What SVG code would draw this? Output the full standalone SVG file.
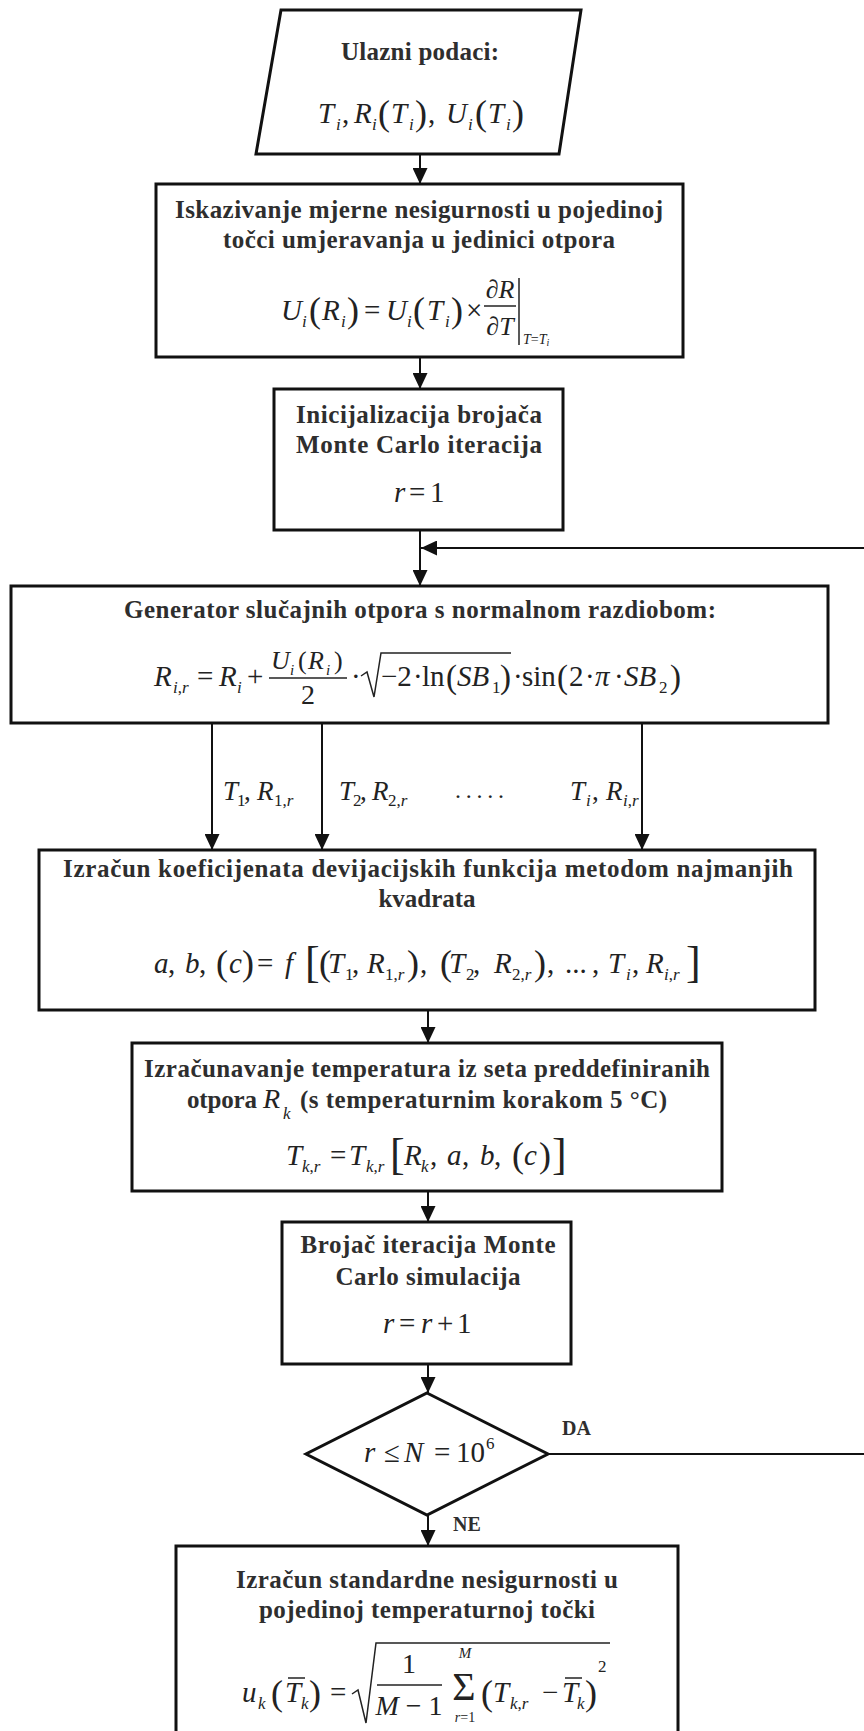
<svg xmlns="http://www.w3.org/2000/svg" width="864" height="1731" viewBox="0 0 864 1731">
<style>
.bx{fill:#fff;stroke:#111;stroke-width:3}
.ln{fill:none;stroke:#111;stroke-width:2}
.th{fill:none;stroke:#222;stroke-width:1.5}
.t{font-family:"Liberation Serif","Times New Roman",serif;font-weight:bold;font-size:25px;fill:#2e2e2e;text-anchor:middle}
.ts{text-anchor:start}
.m{font-family:"Liberation Serif","Times New Roman",serif;font-style:italic;font-size:29px;fill:#222}
.c{text-anchor:middle}
.n{font-style:normal}
.s{font-size:17px}
.p{font-style:normal;font-size:36px}
.b{font-style:normal;font-size:44px}
.lab{font-family:"Liberation Serif","Times New Roman",serif;font-weight:bold;font-size:20px;fill:#2e2e2e}
</style>
<defs>
<marker id="ah" markerUnits="userSpaceOnUse" markerWidth="16" markerHeight="15" refX="16" refY="7.5" orient="auto">
<path d="M0,0 L16,7.5 L0,15 z" fill="#111"/>
</marker>
</defs>
<rect width="864" height="1731" fill="#fff"/>

<g id="connectors">
<line class="ln" x1="420" y1="155" x2="420" y2="184" marker-end="url(#ah)"/>
<line class="ln" x1="420" y1="358" x2="420" y2="389" marker-end="url(#ah)"/>
<line class="ln" x1="420" y1="531" x2="420" y2="586" marker-end="url(#ah)"/>
<line class="ln" x1="864" y1="548" x2="421" y2="548" marker-end="url(#ah)"/>
<line class="ln" x1="212" y1="724" x2="212" y2="850" marker-end="url(#ah)"/>
<line class="ln" x1="322" y1="724" x2="322" y2="850" marker-end="url(#ah)"/>
<line class="ln" x1="642" y1="724" x2="642" y2="850" marker-end="url(#ah)"/>
<line class="ln" x1="428" y1="1011" x2="428" y2="1043" marker-end="url(#ah)"/>
<line class="ln" x1="428" y1="1192" x2="428" y2="1222" marker-end="url(#ah)"/>
<line class="ln" x1="428" y1="1365" x2="428" y2="1393" marker-end="url(#ah)"/>
<line class="ln" x1="428" y1="1515" x2="428" y2="1546" marker-end="url(#ah)"/>
<line class="ln" x1="548" y1="1454" x2="864" y2="1454"/>
<text class="lab" x="562" y="1435">DA</text>
<text class="lab" x="453" y="1531">NE</text>
<g class="m" style="font-size:27px">
<text><tspan x="223" y="800">T</tspan><tspan class="s n" x="237" y="806">1</tspan><tspan class="n" x="244" y="800">,</tspan><tspan x="257" y="800">R</tspan><tspan class="s" x="274" y="806"><tspan class="n">1,</tspan>r</tspan></text>
<text><tspan x="339" y="800">T</tspan><tspan class="s n" x="353" y="806">2</tspan><tspan class="n" x="360" y="800">,</tspan><tspan x="372" y="800">R</tspan><tspan class="s" x="388" y="806"><tspan class="n">2,</tspan>r</tspan></text>
<text class="n" x="455" y="798" style="font-size:24px" textLength="49">.....</text>
<text><tspan x="570" y="800">T</tspan><tspan class="s" x="586" y="806">i</tspan><tspan class="n" x="592" y="800">,</tspan><tspan x="606" y="800">R</tspan><tspan class="s" x="623" y="806">i<tspan class="n">,</tspan>r</tspan></text>
</g>
</g>

<g id="n1">
<polygon class="bx" points="281,10 581,10 559,154 256,154"/>
<text class="t" x="420" y="60" textLength="158">Ulazni podaci:</text>
<text class="m"><tspan x="318" y="123">T</tspan><tspan class="s" x="336" y="130">i</tspan><tspan class="n" x="342" y="123">,</tspan><tspan x="354" y="123">R</tspan><tspan class="s" x="372" y="130">i</tspan><tspan class="p" x="378" y="125">(</tspan><tspan x="391" y="123">T</tspan><tspan class="s" x="409" y="130">i</tspan><tspan class="p" x="415" y="125">)</tspan><tspan class="n" x="428" y="123">,</tspan><tspan x="446" y="123">U</tspan><tspan class="s" x="468" y="130">i</tspan><tspan class="p" x="475" y="125">(</tspan><tspan x="488" y="123">T</tspan><tspan class="s" x="506" y="130">i</tspan><tspan class="p" x="512" y="125">)</tspan></text>
</g>

<g id="n2">
<rect class="bx" x="156" y="184" width="527" height="173"/>
<text class="t" x="419" y="218" textLength="488">Iskazivanje mjerne nesigurnosti u pojedinoj</text>
<text class="t" x="419" y="248" textLength="392">točci umjeravanja u jedinici otpora</text>
<text class="m"><tspan x="281" y="320">U</tspan><tspan class="s" x="302" y="327">i</tspan><tspan class="p" x="309" y="322">(</tspan><tspan x="322" y="320">R</tspan><tspan class="s" x="341" y="327">i</tspan><tspan class="p" x="347" y="322">)</tspan><tspan class="n" x="364" y="320">=</tspan><tspan x="386" y="320">U</tspan><tspan class="s" x="407" y="327">i</tspan><tspan class="p" x="413" y="322">(</tspan><tspan x="427" y="320">T</tspan><tspan class="s" x="445" y="327">i</tspan><tspan class="p" x="451" y="322">)</tspan><tspan class="n" x="466" y="320">×</tspan></text>
<text class="m c" x="500" y="298" style="font-size:26px"><tspan class="n">∂</tspan>R</text>
<line class="th" x1="484" y1="306" x2="516" y2="306"/>
<text class="m c" x="500" y="335" style="font-size:26px"><tspan class="n">∂</tspan>T</text>
<line class="th" x1="519" y1="278" x2="519" y2="345"/>
<text class="m" x="523" y="344" style="font-size:14px">T<tspan class="n">=</tspan>T<tspan style="font-size:10px" dy="2">i</tspan></text>
</g>

<g id="n3">
<rect class="bx" x="274" y="389" width="289" height="141"/>
<text class="t" x="419" y="423" textLength="246">Inicijalizacija brojača</text>
<text class="t" x="419" y="453" textLength="246">Monte Carlo iteracija</text>
<text class="m"><tspan x="394" y="502">r</tspan><tspan class="n" x="409" y="502">=</tspan><tspan class="n" x="430" y="502">1</tspan></text>
</g>

<g id="n4">
<rect class="bx" x="11" y="586" width="817" height="137"/>
<text class="t" x="420" y="618" textLength="592">Generator slučajnih otpora s normalnom razdiobom:</text>
<text class="m"><tspan x="154" y="686">R</tspan><tspan class="s" x="173" y="693">i<tspan class="n">,</tspan>r</tspan><tspan class="n" x="197" y="686">=</tspan><tspan x="219" y="686">R</tspan><tspan class="s" x="237" y="693">i</tspan><tspan class="n" x="247" y="686">+</tspan></text>
<text class="m" style="font-size:26px"><tspan x="271" y="669">U</tspan><tspan style="font-size:15px" x="290" y="675">i</tspan><tspan class="n" x="298" y="669">(</tspan><tspan x="308" y="669">R</tspan><tspan style="font-size:15px" x="326" y="675">i</tspan><tspan class="n" x="334" y="669">)</tspan></text>
<line class="th" x1="269" y1="678" x2="347" y2="678"/>
<text class="m n c" x="308" y="704" style="font-size:28px">2</text>
<polyline class="th" points="361,676 367,672 374,697 381,653 511,653"/>
<text class="m"><tspan class="n" x="351" y="686">·</tspan><tspan class="n" x="381" y="686">−2</tspan><tspan class="n" x="413" y="686">·</tspan><tspan class="n" x="422" y="686">ln</tspan><tspan class="p" style="font-size:33px" x="446" y="688">(</tspan><tspan x="457" y="686">SB</tspan><tspan class="s n" x="492" y="693">1</tspan><tspan class="p" style="font-size:33px" x="500" y="688">)</tspan><tspan class="n" x="513" y="686">·</tspan><tspan class="n" x="522" y="686">sin</tspan><tspan class="p" style="font-size:33px" x="557" y="688">(</tspan><tspan class="n" x="569" y="686">2</tspan><tspan class="n" x="585" y="686">·</tspan><tspan x="595" y="686">π</tspan><tspan class="n" x="614" y="686">·</tspan><tspan x="624" y="686">SB</tspan><tspan class="s n" x="659" y="693">2</tspan><tspan class="p" style="font-size:33px" x="670" y="688">)</tspan></text>
</g>

<g id="n5">
<rect class="bx" x="39" y="850" width="776" height="160"/>
<text class="t" x="428" y="877" textLength="730">Izračun koeficijenata devijacijskih funkcija metodom najmanjih</text>
<text class="t" x="427" y="907">kvadrata</text>
<text class="m"><tspan x="154" y="973">a</tspan><tspan class="n" x="168" y="973">,</tspan><tspan x="185" y="973">b</tspan><tspan class="n" x="199" y="973">,</tspan><tspan class="p" x="216" y="975">(</tspan><tspan x="229" y="973">c</tspan><tspan class="p" x="242" y="975">)</tspan><tspan class="n" x="257" y="973">=</tspan><tspan x="285" y="973">f</tspan><tspan class="b" x="305" y="977">[</tspan><tspan class="p" x="319" y="975">(</tspan><tspan x="328" y="973">T</tspan><tspan class="s n" x="345" y="980">1</tspan><tspan class="n" x="352" y="973">,</tspan><tspan x="367" y="973">R</tspan><tspan class="s" x="385" y="980"><tspan class="n">1,</tspan>r</tspan><tspan class="p" x="407" y="975">)</tspan><tspan class="n" x="420" y="973">,</tspan><tspan class="p" x="440" y="975">(</tspan><tspan x="449" y="973">T</tspan><tspan class="s n" x="466" y="980">2</tspan><tspan class="n" x="473" y="973">,</tspan><tspan x="494" y="973">R</tspan><tspan class="s" x="512" y="980"><tspan class="n">2,</tspan>r</tspan><tspan class="p" x="534" y="975">)</tspan><tspan class="n" x="547" y="973">,</tspan><tspan class="n" x="565" y="973">...</tspan><tspan class="n" x="592" y="973">,</tspan><tspan x="608" y="973">T</tspan><tspan class="s" x="626" y="980">i</tspan><tspan class="n" x="632" y="973">,</tspan><tspan x="646" y="973">R</tspan><tspan class="s" x="664" y="980">i<tspan class="n">,</tspan>r</tspan><tspan class="b" x="686" y="977">]</tspan></text>
</g>

<g id="n6">
<rect class="bx" x="132" y="1043" width="590" height="148"/>
<text class="t" x="427" y="1077" textLength="566">Izračunavanje temperatura iz seta preddefiniranih</text>
<text class="t ts" x="187" y="1108" textLength="70">otpora</text>
<text class="m" x="263" y="1108" style="font-size:28px">R<tspan class="s" x="283" y="1119">k</tspan></text>
<text class="t ts" x="300" y="1108" textLength="367">(s temperaturnim korakom 5 °C)</text>
<text class="m"><tspan x="286" y="1165">T</tspan><tspan class="s" x="302" y="1172">k<tspan class="n">,</tspan>r</tspan><tspan class="n" x="330" y="1165">=</tspan><tspan x="349" y="1165">T</tspan><tspan class="s" x="366" y="1172">k<tspan class="n">,</tspan>r</tspan><tspan class="b" x="390" y="1169">[</tspan><tspan x="404" y="1165">R</tspan><tspan class="s" x="421" y="1172">k</tspan><tspan class="n" x="430" y="1165">,</tspan><tspan x="447" y="1165">a</tspan><tspan class="n" x="462" y="1165">,</tspan><tspan x="480" y="1165">b</tspan><tspan class="n" x="494" y="1165">,</tspan><tspan class="p" x="512" y="1167">(</tspan><tspan x="524" y="1165">c</tspan><tspan class="p" x="539" y="1167">)</tspan><tspan class="b" x="552" y="1169">]</tspan></text>
</g>

<g id="n7">
<rect class="bx" x="282" y="1222" width="289" height="142"/>
<text class="t" x="428" y="1253" textLength="255">Brojač iteracija Monte</text>
<text class="t" x="428" y="1285" textLength="185">Carlo simulacija</text>
<text class="m"><tspan x="383" y="1333">r</tspan><tspan class="n" x="399" y="1333">=</tspan><tspan x="421" y="1333">r</tspan><tspan class="n" x="437" y="1333">+</tspan><tspan class="n" x="457" y="1333">1</tspan></text>
</g>

<g id="n8">
<polygon class="bx" points="427,1393 548,1454 427,1515 306,1454"/>
<text class="m"><tspan x="364" y="1462">r</tspan><tspan class="n" x="384" y="1462">≤</tspan><tspan x="404" y="1462">N</tspan><tspan class="n" x="434" y="1462">=</tspan><tspan class="n" x="456" y="1462">10</tspan><tspan class="s n" x="486" y="1449">6</tspan></text>
</g>

<g id="n9">
<rect class="bx" x="176" y="1546" width="502" height="200"/>
<text class="t" x="427" y="1588" textLength="382">Izračun standardne nesigurnosti u</text>
<text class="t" x="427" y="1618" textLength="336">pojedinoj temperaturnoj točki</text>
<text class="m"><tspan x="242" y="1702">u</tspan><tspan class="s" x="258" y="1709">k</tspan><tspan class="p" x="271" y="1705">(</tspan><tspan x="285" y="1702">T</tspan><tspan class="s" x="301" y="1709">k</tspan><tspan class="p" x="309" y="1705">)</tspan><tspan class="n" x="330" y="1702">=</tspan></text>
<line class="th" x1="288" y1="1678" x2="305" y2="1678"/>
<polyline class="th" points="352,1694 358,1690 366,1723 376,1643 610,1643"/>
<text class="m n c" x="409" y="1673" style="font-size:28px">1</text>
<line class="th" x1="377" y1="1685" x2="442" y2="1685"/>
<text class="m c" x="409" y="1715" style="font-size:28px">M<tspan class="n"> − 1</tspan></text>
<text class="m n c" x="464" y="1700" style="font-size:40px">Σ</text>
<text class="m c" x="465" y="1658" style="font-size:15px">M</text>
<text class="m c" x="465" y="1722" style="font-size:14px">r<tspan class="n">=1</tspan></text>
<text class="m"><tspan class="p" x="481" y="1705">(</tspan><tspan x="493" y="1702">T</tspan><tspan class="s" x="510" y="1709">k<tspan class="n">,</tspan>r</tspan><tspan class="n" x="542" y="1702">−</tspan><tspan x="562" y="1702">T</tspan><tspan class="s" x="577" y="1709">k</tspan><tspan class="p" x="585" y="1705">)</tspan><tspan class="s n" x="598" y="1672">2</tspan></text>
<line class="th" x1="565" y1="1678" x2="582" y2="1678"/>
</g>
</svg>
